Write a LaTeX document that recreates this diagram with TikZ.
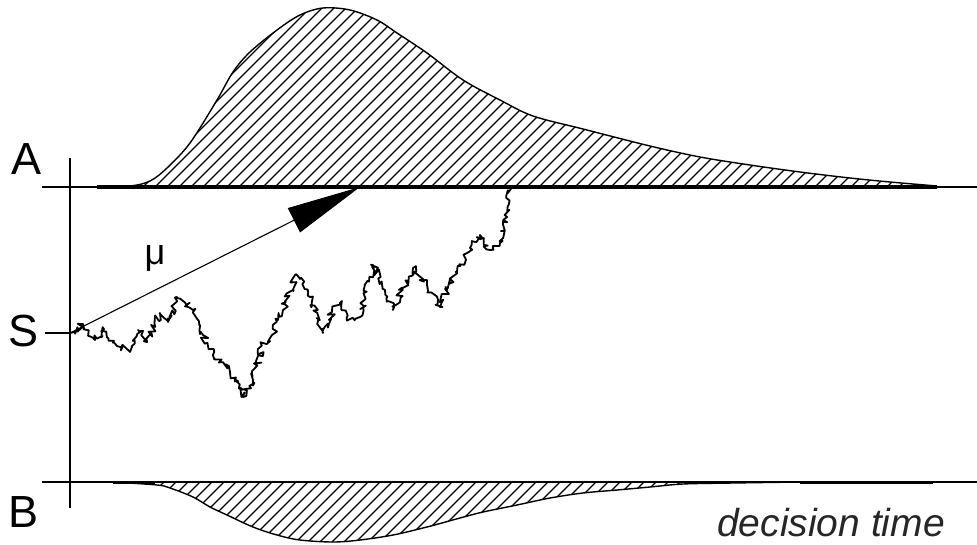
\documentclass[tikz,border=0pt]{standalone}
\usepackage{fontspec}
\setmainfont{Liberation Sans}
\usetikzlibrary{arrows.meta,decorations.pathmorphing}
\tikzset{
  axisline/.style={black,line width=2.2pt},
  hatch/.style={black,line width=1.3pt},
  outline/.style={black,line width=1.4pt},
  walk/.style={black,line width=1.8pt,line join=round,decorate,
    decoration={random steps,segment length=2.4pt,amplitude=3.6pt}},
  bound/.style={font=\fontsize{45}{50}\selectfont},
  uppath/.style={insert path={plot[smooth,tension=0.55] coordinates {
    (97,187) (130,186) (150,181) (167,168) (190,143) (217,100) (233,72) (250,52)
    (277,30) (300,15) (323,8) (350,10) (377,20) (397,33) (427,53) (463,80)
    (500,100) (533,116) (583,129) (650,146) (700,157) (750,165) (800,172)
    (850,178) (890,182) (937,186)}}},
  lowpath/.style={insert path={plot[smooth,tension=0.55] coordinates {
    (113,482) (157,485) (170,488) (193,497) (210,507) (227,515) (253,527)
    (277,535) (300,540) (333,542) (360,540) (393,535) (427,527) (460,518)
    (483,512) (517,505) (550,498) (583,493) (617,490) (650,487) (683,484)
    (733,483) (800,482)}}}
}

\begin{document}
\begin{tikzpicture}[x=1pt,y=-1pt]
  \useasboundingbox (0,0) rectangle (977,544);
  \coordinate (aL) at (42,187);  \coordinate (aR) at (977,187);
  \coordinate (bL) at (42,482);  \coordinate (bR) at (977,482);
  \coordinate (vT) at (70,158);  \coordinate (vB) at (70,508);
  \coordinate (sL) at (45,333);  \coordinate (s0) at (70,333);
  \coordinate (tip) at (360,187);
  % hatched densities of the hitting times
  \begin{scope}
    \clip[uppath] -- cycle;
    \foreach \hx in {-100,-88,...,950} \draw[hatch] (\hx,190) -- ++(186,-186);
  \end{scope}
  \draw[outline,uppath];
  \begin{scope}
    \clip[lowpath] -- cycle;
    \foreach \hx in {40,52,...,820} \draw[hatch] (\hx,546) -- ++(66,-66);
  \end{scope}
  \draw[outline,lowpath];
  % axes
  \draw[axisline] (aL) -- (aR);
  \draw[black,line width=3.6pt] (97,187) -- (937,187);
  \draw[axisline,line width=1.8pt] (bL) -- (bR);
  \draw[black,line width=3.2pt] (113,482.5) -- (155,482.5) (800,482.5) -- (933,482.5);
  \draw[black,line width=1.8pt] (vT) -- (vB);
  \draw[black,line width=1.8pt] (sL) -- (s0);
  \node[bound] (labA) at (27,159) {A};
  \node[bound] (labS) at (24,331) {S};
  \node[bound] (labB) at (24,512) {B};
  % drift and one sample path
  \draw[black,line width=1.1pt,-{Triangle[length=74pt,width=27pt]}] (s0) -- (tip);
  \node[font=\fontsize{36}{40}\selectfont] (mu) at (155,258) {μ};
  \pgfmathsetseed{17}
  \draw[walk] (s0) -- (83,324) -- (95,340) -- (104,329) -- (117,346) -- (130,352)
    -- (138,330) -- (147,342) -- (160,313) -- (168,322) -- (177,297)
    -- (193,310) -- (203,335) -- (213,355) -- (230,372) -- (243,397) -- (253,380)
    -- (263,343) -- (272,335) -- (283,310) -- (297,275) -- (310,297) -- (323,333)
    -- (332,312) -- (340,303) -- (348,320) -- (360,317) -- (373,265) -- (385,290)
    -- (393,310) -- (413,268) -- (427,285) -- (440,307) -- (447,290) -- (457,272)
    -- (470,248) -- (480,235) -- (490,250) -- (500,243) -- (507,217) -- (510,187);
  \node[anchor=base,inner sep=0pt,text=black!85,font=\fontsize{39}{44}\selectfont\itshape]
    (dtime) at (831,536) {decision time};
\end{tikzpicture}
\end{document}
